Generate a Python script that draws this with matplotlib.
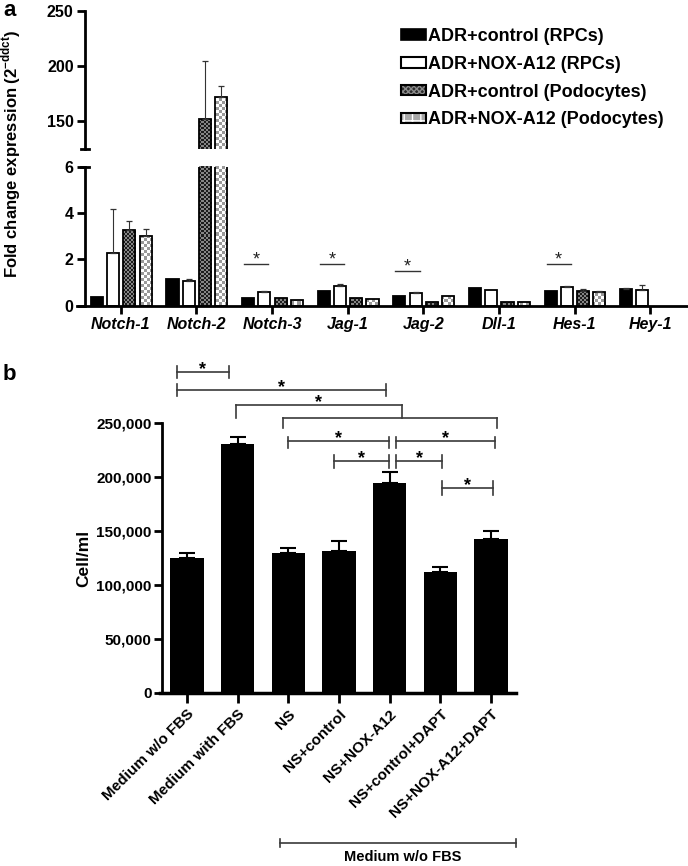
import numpy as np
import matplotlib
matplotlib.use("Agg")
import matplotlib.pyplot as plt
from matplotlib.colors import ListedColormap
from matplotlib.patches import Patch

plt.rcParams['font.family'] = ['Liberation Sans', 'DejaVu Sans']
plt.rcParams['font.weight'] = 'bold'
plt.rcParams['axes.labelweight'] = 'bold'

# ---- panel a data: fold change (2^-ddct) ----
genes = ['Notch-1', 'Notch-2', 'Notch-3', 'Jag-1', 'Jag-2', 'Dll-1', 'Hes-1', 'Hey-1']
rpc_ctrl = [0.36, 1.13, 0.32, 0.62, 0.41, 0.77, 0.61, 0.70]
rpc_ctrl_err = [0.0, 0.0, 0.0, 0.0, 0.0, 0.0, 0.0, 0.07]
rpc_nox = [2.28, 1.06, 0.57, 0.83, 0.55, 0.67, 0.80, 0.68]
rpc_nox_err = [1.88, 0.08, 0.05, 0.08, 0.02, 0.0, 0.06, 0.20]
pod_ctrl = [3.29, 152.0, 0.32, 0.33, 0.15, 0.15, 0.64, np.nan]
pod_ctrl_err = [0.36, 52.6, 0.0, 0.0, 0.0, 0.0, 0.08, np.nan]
pod_nox = [3.01, 171.8, 0.22, 0.29, 0.42, 0.13, 0.60, np.nan]
pod_nox_err = [0.31, 10.4, 0.0, 0.0, 0.0, 0.0, 0.04, np.nan]
series_names = ['ADR+control (RPCs)', 'ADR+NOX-A12 (RPCs)',
                'ADR+control (Podocytes)', 'ADR+NOX-A12 (Podocytes)']
sig_genes = ['Notch-3', 'Jag-1', 'Jag-2', 'Hes-1']
sig_heights = [1.81, 1.81, 1.50, 1.80]

# ---- panel b data: cell counts ----
conditions = ['Medium w/o FBS', 'Medium with FBS', 'NS', 'NS+control',
              'NS+NOX-A12', 'NS+control+DAPT', 'NS+NOX-A12+DAPT']
cells = [125300, 230500, 129300, 131200, 194000, 111700, 142300]
cells_err = [4000, 6200, 5000, 9900, 10200, 5300, 8100]

W, H = 688, 866
fig = plt.figure(figsize=(W / 100, H / 100), dpi=100)


def fx(px):
    return px / W


def fy(py):
    return 1 - py / H


def checker_fill(ax, bars, colors, cell):
    # texture fill: a checker image clipped to each bar
    pos = ax.get_position()
    nx = int(pos.width * W / cell)
    ny = int(pos.height * H / cell)
    img = np.indices((ny, nx)).sum(axis=0) % 2
    x0, x1 = ax.get_xlim()
    y0, y1 = ax.get_ylim()
    for b in bars:
        if not np.isfinite(b.get_height()):
            continue
        im = ax.imshow(img, cmap=ListedColormap(colors), extent=(x0, x1, y0, y1),
                       aspect='auto', interpolation='nearest', origin='lower', zorder=1)
        im.set_clip_path(b)
    ax.set_xlim(x0, x1)
    ax.set_ylim(y0, y1)


# ================= panel a =================
ax_top = fig.add_axes([fx(77), fy(149), fx(611), 138.3 / H])
ax_low = fig.add_axes([fx(77), fy(305.5), fx(611), 138.5 / H])

x = np.arange(len(genes))
bw = 0.16
offs = np.array([-1.5, -0.5, 0.5, 1.5]) * 0.215 + 0.005
vals = [rpc_ctrl, rpc_nox, pod_ctrl, pod_nox]
errs = [rpc_ctrl_err, rpc_nox_err, pod_ctrl_err, pod_nox_err]
faces = ['black', 'white', 'none', 'none']

for ax, ylim in [(ax_top, (125, 250)), (ax_low, (0, 6))]:
    ax.set_xlim(-0.58, 7.5)
    ax.set_ylim(*ylim)
    bar_sets = []
    for i in range(4):
        v = np.array(vals[i], dtype=float)
        bs = ax.bar(x + offs[i], v, bw, color=faces[i], edgecolor='black', linewidth=1.3, zorder=2)
        bar_sets.append(bs)
        e = np.array(errs[i], dtype=float)
        ok = np.isfinite(v) & (np.nan_to_num(e) > 0)
        ax.errorbar((x + offs[i])[ok], v[ok], yerr=[np.zeros(ok.sum()), e[ok]], fmt='none',
                    ecolor='#333333', elinewidth=0.8, capsize=2.5, capthick=0.9, zorder=3)
    checker_fill(ax, bar_sets[2], ['#1c1c1c', '#858585'], 2)
    checker_fill(ax, bar_sets[3], ['#ffffff', '#9a9a9a'], 3)
    for s in ['top', 'right']:
        ax.spines[s].set_visible(False)
    ax.spines['left'].set_position(('data', -0.477))
    ax.spines['left'].set_linewidth(2)
    ax.spines['bottom'].set_linewidth(2)
    ax.tick_params(axis='y', length=6, width=2, labelsize=11.5, pad=2)
    ax.tick_params(axis='x', length=6, width=2, pad=2)

ax_top.spines['bottom'].set_visible(False)
ax_top.set_xticks([])
ax_top.set_yticks([150, 200, 250])
ax_top.plot([-0.53, -0.42], [125, 125], color='black', lw=2, clip_on=False)
ax_low.plot([-0.53, -0.42], [6, 6], color='black', lw=2, clip_on=False)
ax_low.set_yticks([0, 2, 4, 6])
ax_low.set_xticks(x)
ax_low.set_xticklabels(genes, fontsize=11.5, fontstyle='italic', fontweight='bold')

for g, h in zip(sig_genes, sig_heights):
    i = genes.index(g)
    ax_low.plot([i - 0.37, i - 0.05], [h, h], color='#333333', lw=1, zorder=3)
    ax_low.text(i - 0.21, h - 0.02, '*', ha='center', va='baseline', fontsize=13,
                fontweight='normal', color='#222222')

fig.text(fx(11), fy(154), r'Fold change expression (2$^{\mathregular{-ddct}}$)', rotation=90,
         ha='center', va='center', fontsize=12, fontweight='bold')
fig.text(fx(3), fy(16), 'a', fontsize=16, fontweight='bold', ha='left', va='baseline')

h1 = Patch(facecolor='black', edgecolor='black', linewidth=1.2)
h2 = Patch(facecolor='white', edgecolor='black', linewidth=1.5)
h3 = (Patch(facecolor='#2a2a2a', edgecolor='#8a8a8a', hatch='xxxxxx', linewidth=0),
      Patch(facecolor='none', edgecolor='black', linewidth=1.5))
h4 = (Patch(facecolor='#a8a8a8', edgecolor='white', hatch='++', linewidth=0),
      Patch(facecolor='none', edgecolor='black', linewidth=1.5))
fig.legend([h1, h2, h3, h4], series_names, loc='upper left', bbox_to_anchor=(fx(401), fy(28)),
           frameon=False, fontsize=13, handlelength=1.4, handleheight=0.5,
           handletextpad=0.12, labelspacing=0.6, borderpad=0, borderaxespad=0)

# ================= panel b =================
axb = fig.add_axes([fx(160), fy(693), fx(356.4), 270 / H])
xb = np.arange(len(conditions))
axb.bar(xb, cells, 0.66, color='black', zorder=2)
axb.errorbar(xb, cells, yerr=[np.zeros(len(cells)), cells_err], fmt='none', ecolor='black',
             elinewidth=1.5, capsize=6, capthick=1.5, zorder=3)
axb.set_xlim(-0.53, 6.5)
axb.set_ylim(0, 250000)
axb.set_yticks(np.arange(0, 250001, 50000))
axb.set_yticklabels([f'{v:,}' for v in range(0, 250001, 50000)])
axb.set_xticks(xb)
axb.set_xticklabels(conditions, rotation=45, ha='right', rotation_mode='anchor', fontsize=11)
for s in ['top', 'right']:
    axb.spines[s].set_visible(False)
axb.spines['left'].set_position(('data', -0.5))
axb.spines['left'].set_linewidth(2)
axb.spines['bottom'].set_linewidth(2.5)
axb.tick_params(axis='y', length=6, width=2, labelsize=11, pad=1)
axb.tick_params(axis='x', length=7, width=2, pad=3)
axb.set_ylabel('Cell/ml', fontsize=12.5, labelpad=4)

k = 250000 / 270.0  # data units per pixel
bc = '#3a3a3a'


def bracket(x1, x2, y, up, down, star=True):
    axb.plot([x1, x2], [y, y], color=bc, lw=1.2, clip_on=False)
    for xx in (x1, x2):
        axb.plot([xx, xx], [y + up * k, y - down * k], color=bc, lw=1.2, clip_on=False)
    if star:
        axb.text((x1 + x2) / 2, y - 2 * k, '*', ha='center', va='baseline', fontsize=13,
                 fontweight='bold', clip_on=False)


bracket(-0.195, 0.83, 297500, 6, 6)
bracket(-0.195, 3.93, 280600, 6, 6)
bracket(0.97, 4.24, 266700, 0, 13)
bracket(1.90, 6.12, 254600, 0, 10, star=False)
bracket(1.99, 3.98, 233300, 4, 7)
bracket(4.13, 6.08, 233300, 4, 7)
bracket(2.90, 3.98, 214800, 6, 7)
bracket(4.13, 5.03, 214800, 6, 7)
bracket(5.03, 6.04, 189800, 7, 7)

# group bracket under the axis
axb.plot([1.84, 6.49], [-150 * k, -150 * k], color=bc, lw=1.2, clip_on=False)
for xx in (1.84, 6.49):
    axb.plot([xx, xx], [-146 * k, -154 * k], color=bc, lw=1.2, clip_on=False)
axb.text(4.26, -164 * k, 'Medium w/o FBS', ha='center', va='center', fontsize=10.5,
         fontweight='bold', clip_on=False)

fig.text(fx(3), fy(380), 'b', fontsize=16, fontweight='bold', ha='left', va='baseline')

fig.savefig('out.png', dpi=100)
